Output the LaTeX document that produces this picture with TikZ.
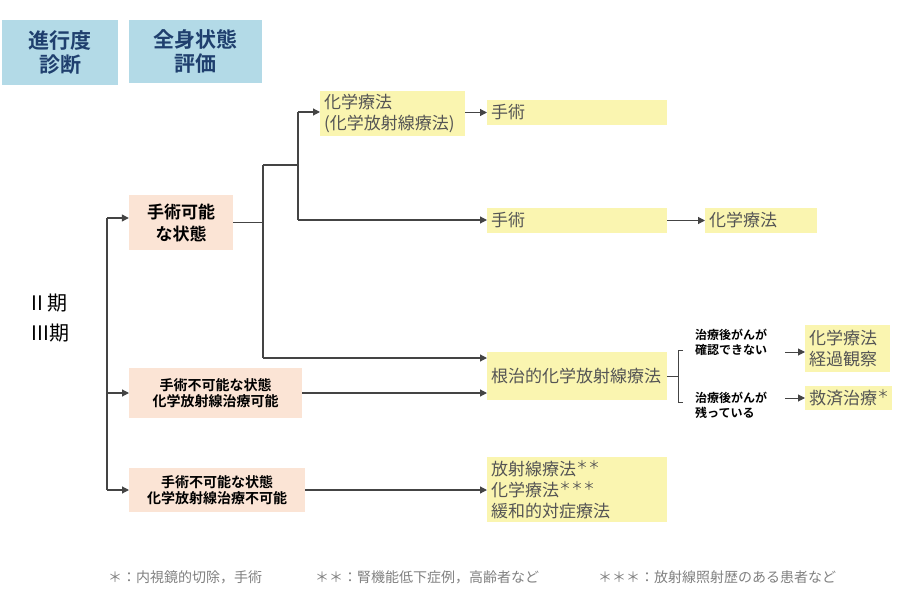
\documentclass[tikz,border=0pt]{standalone}
\usepackage{fontspec}
\setmainfont{Noto Sans CJK JP}[BoldFont={* Bold}]
\usetikzlibrary{arrows.meta}
\definecolor{yel}{HTML}{FAF5B0}
\definecolor{pch}{HTML}{FBE4D5}
\definecolor{hdr}{HTML}{B3DAE7}
\definecolor{hdrt}{HTML}{1F3F6E}
\definecolor{txt}{HTML}{555555}
\definecolor{ln}{HTML}{444444}
\begin{document}
\begin{tikzpicture}[x=1pt,y=-1pt,
 hbox/.style={fill=hdr,text=hdrt,font=\fontsize{21}{24}\selectfont\bfseries,align=center,inner sep=0},
 ybox/.style={fill=yel,text=txt,font=\fontsize{17}{21}\selectfont,align=left,anchor=west,inner xsep=4pt},
 pbox/.style={fill=pch,text=black,font=\fontsize{14}{16}\selectfont\bfseries,align=center},
 lab/.style={text=black,font=\fontsize{12}{15}\selectfont\bfseries,align=left,anchor=west,inner sep=0},
 con/.style={draw=ln,line width=1.2pt},
 arr/.style={con,-{Triangle[length=7pt,width=7pt]}},
 foot/.style={text=gray,font=\fontsize{14}{16}\selectfont,anchor=west,inner sep=0}]
\useasboundingbox (0,0) rectangle (900,607);
\node[hbox,minimum width=116,minimum height=65] (h1) at (60,52.5) {進行度\\診断};
\node[hbox,minimum width=133,minimum height=63] (h2) at (195.5,51.5) {全身状態\\評価};
\node[font=\fontsize{20}{30}\selectfont,align=left,anchor=west] (st) at (28,318) {II 期\\III期};
% boxes
\node[pbox,minimum width=104,minimum height=55,font=\fontsize{17}{22}\selectfont\bfseries] (op) at (181,222.5) {手術可能\\な状態};
\node[pbox,minimum width=173,minimum height=50,anchor=west] (nop1) at (129,393) {手術不可能な状態\\化学放射線治療可能};
\node[pbox,minimum width=176,minimum height=44,anchor=west] (nop2) at (129,490) {手術不可能な状態\\化学放射線治療不可能};
\node[ybox,text width=137,minimum height=43] (ch1) at (320,113.5) {化学療法\\(化学放射線療法)};
\node[ybox,text width=172,minimum height=25] (su1) at (487,112.5) {手術};
\node[ybox,text width=172,minimum height=25] (su2) at (487,220.5) {手術};
\node[ybox,text width=104,minimum height=25] (ch2) at (705,220.5) {化学療法};
\node[ybox,text width=172,minimum height=48] (rad) at (487,376) {根治的化学放射線療法};
\node[ybox,text width=77,minimum height=47] (obs) at (805,348.5) {化学療法\\経過観察};
\node[ybox,text width=79,minimum height=24] (sal) at (805,398) {救済治療\textsuperscript{＊}};
\node[ybox,text width=172,minimum height=65] (pal) at (487,489.5) {放射線療法\textsuperscript{＊＊}\\化学療法\textsuperscript{＊＊＊}\\緩和的対症療法};
\node[lab] (l1) at (695,342) {治療後がんが\\確認できない};
\node[lab] (l2) at (695,405) {治療後がんが\\残っている};
% coordinates
\coordinate (v1) at (107,218);
\coordinate (v2) at (107,490);
\coordinate (j1) at (263,165);
\coordinate (j2) at (263,358);
\coordinate (k1) at (298,112);
\coordinate (k2) at (298,220);
\coordinate (b1) at (683,350);
\coordinate (b2) at (683,402);
% connectors
\draw[con] (v1) -- (v2);
\draw[arr] (v1) -- (op.west|-v1);
\draw[arr] (107,393) -- (nop1.west);
\draw[arr] (v2) -- (nop2.west);
\draw[con] (op.east) -- (263,222.5);
\draw[con] (j1) -- (j2);
\draw[con] (j1) -- (298,165);
\draw[con] (k1) -- (k2);
\draw[arr] (k1) -- (ch1.west|-k1);
\draw[arr] (k2) -- (su2.west|-k2);
\draw[arr] (j2) -- (rad.west|-j2);
\draw[arr] (nop1.east) -- (rad.west|-nop1.east);
\draw[arr] (nop2.east) -- (pal.west|-nop2.east);
\draw[arr] (ch1.east|-su1) -- (su1.west);
\draw[arr] (su2.east) -- (ch2.west);
\draw[con,line width=0.8pt] (rad.east) -- (678,376);
\draw[con,line width=0.8pt] (b1) -- (678,350) -- (678,402) -- (b2);
\draw[arr,line width=1pt] (785,352) -- (obs.west|-785,352);
\draw[arr,line width=1pt] (785,398) -- (sal.west);
% footnotes
\node[foot] (f1) at (108,577) {＊：内視鏡的切除，手術};
\node[foot] (f2) at (315,577) {＊＊：腎機能低下症例，高齢者など};
\node[foot] (f3) at (598,577) {＊＊＊：放射線照射歴のある患者など};
\end{tikzpicture}
\end{document}
